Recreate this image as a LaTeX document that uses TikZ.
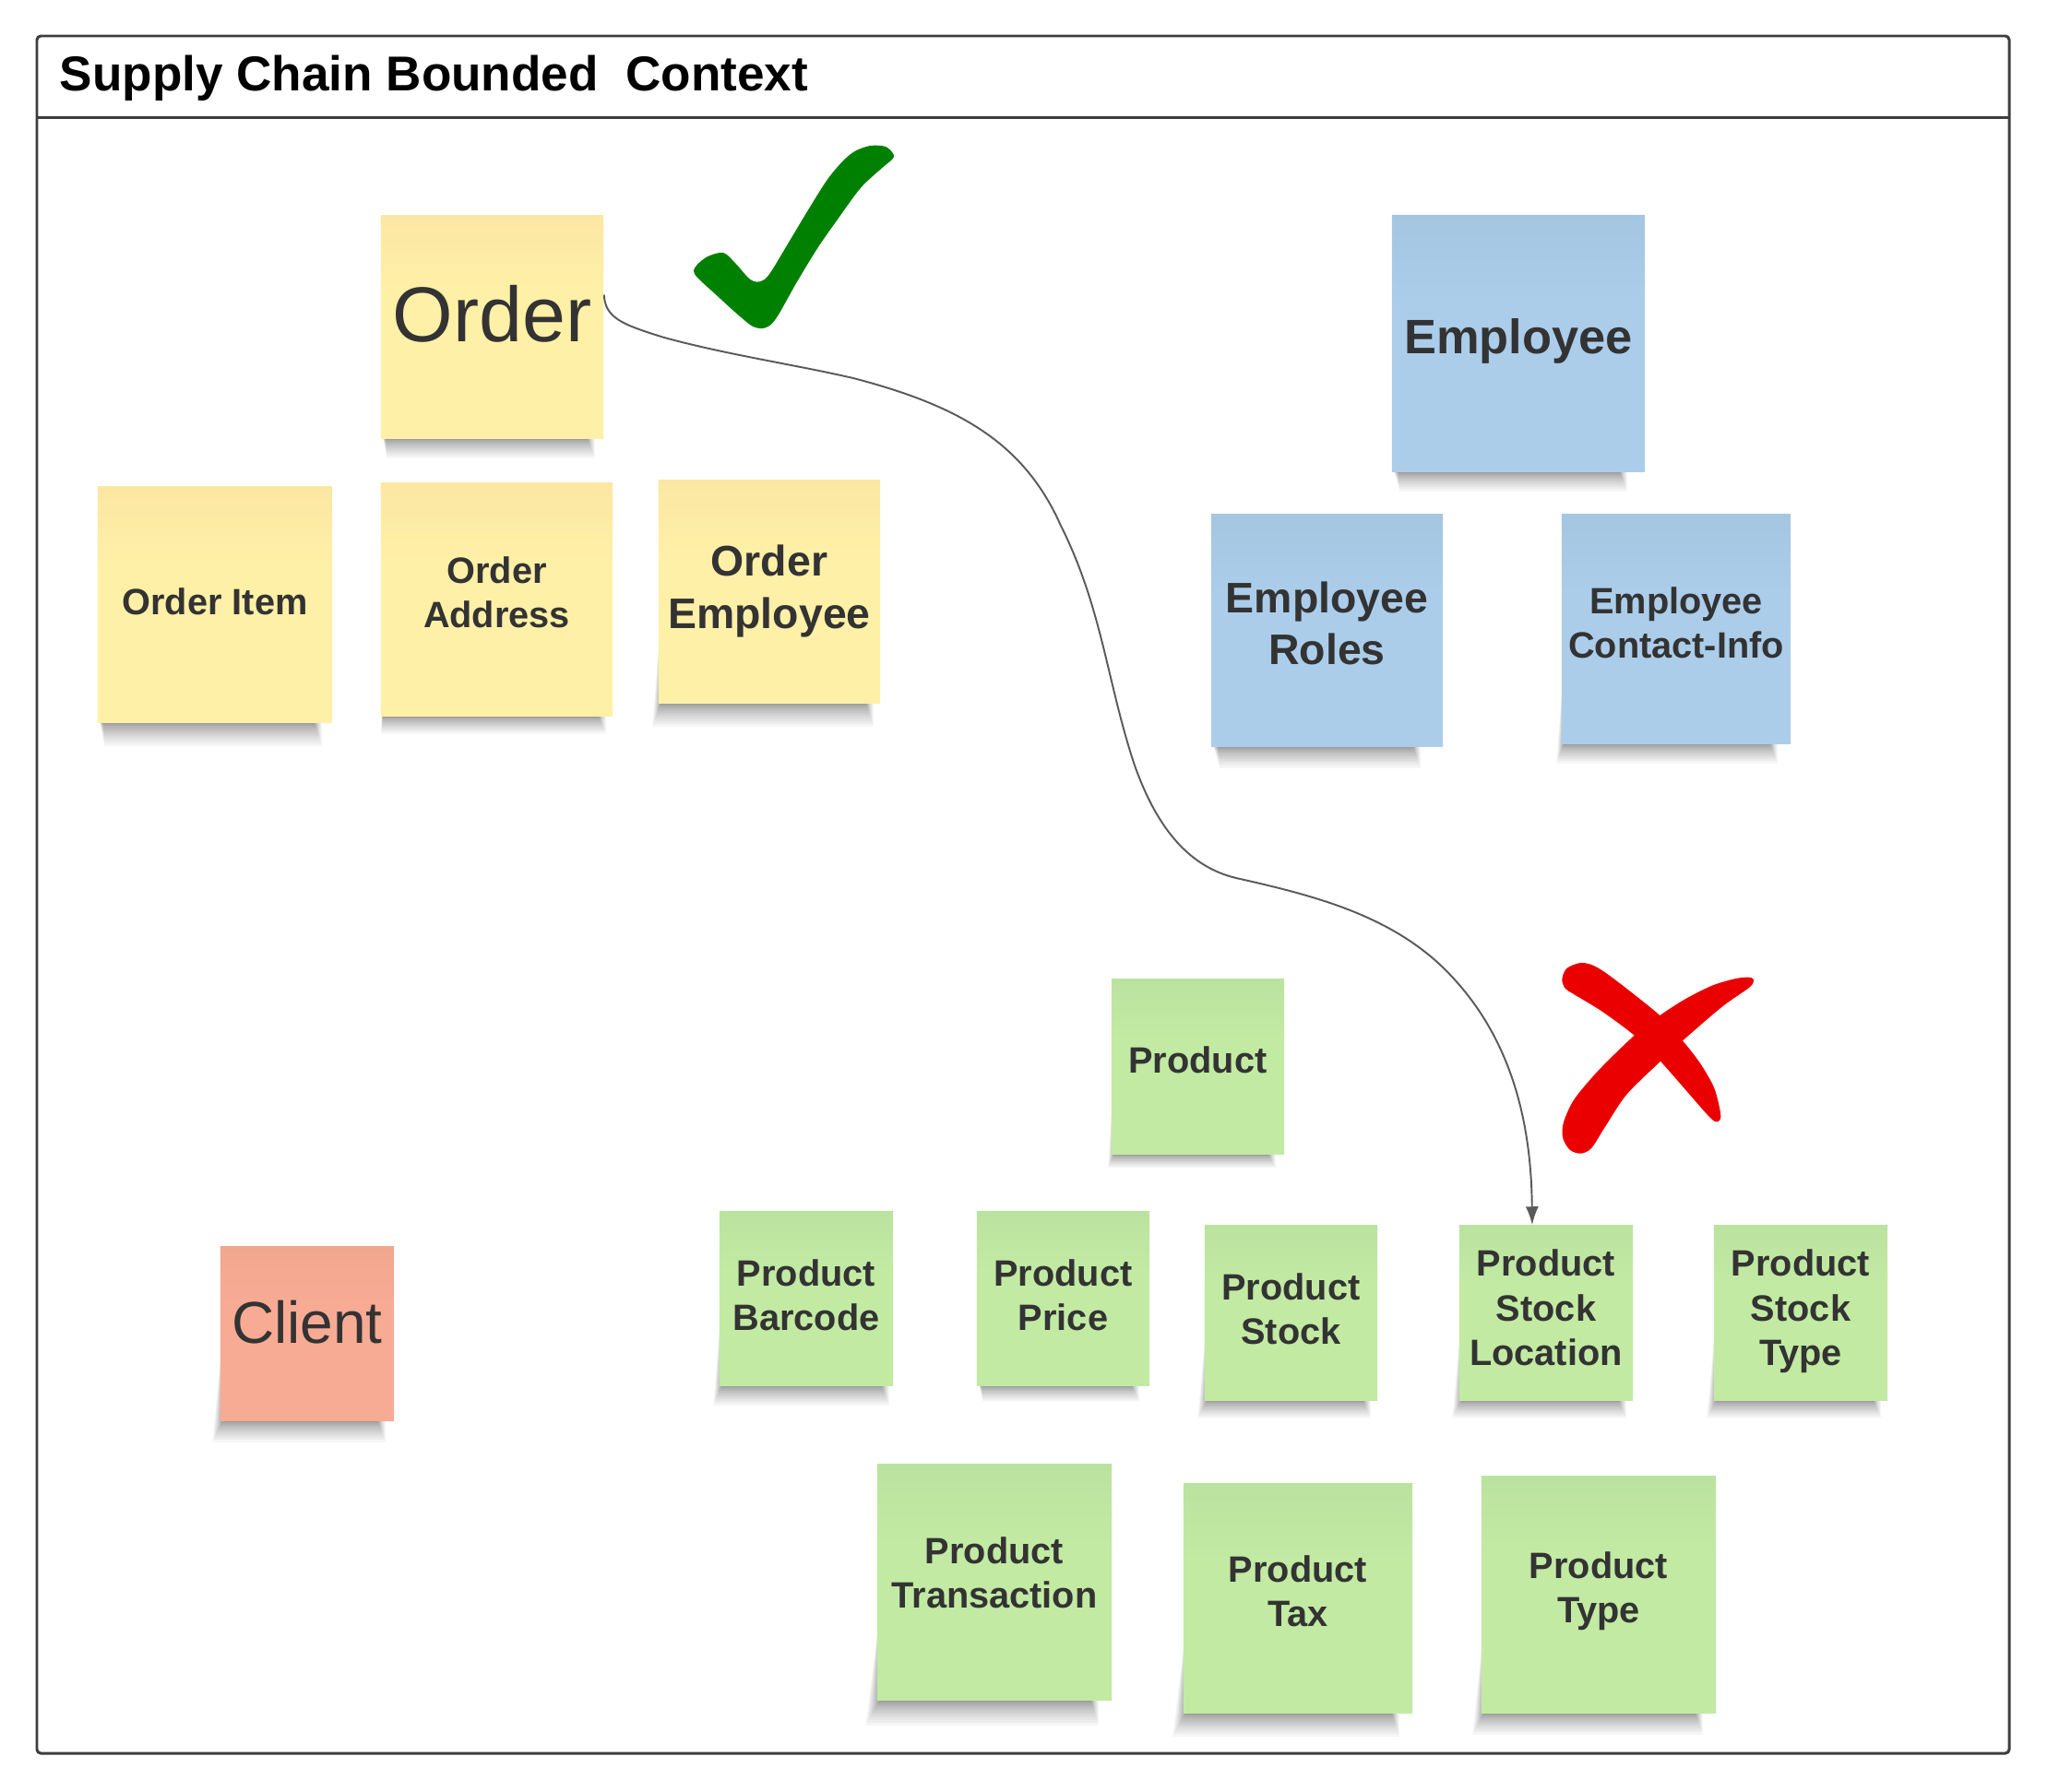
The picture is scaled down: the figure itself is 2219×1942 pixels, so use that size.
\documentclass[tikz,border=0pt]{standalone}
\usepackage{fontspec}
\setmainfont{Liberation Sans}
\usetikzlibrary{arrows.meta, backgrounds, calc}

\definecolor{frameline}{HTML}{3D3D3D}
\definecolor{notetext}{HTML}{333333}
\definecolor{linkline}{HTML}{5A5A5A}

% Note fills, a little darker at the top
\definecolor{yellowtop}{HTML}{FBE7A2}
\definecolor{yellowlow}{HTML}{FFF0A7}
\definecolor{bluetop}{HTML}{A5C6E1}
\definecolor{bluelow}{HTML}{ABCDEA}
\definecolor{greentop}{HTML}{BBE3A0}
\definecolor{greenlow}{HTML}{C2EAA3}
\definecolor{redtop}{HTML}{F1A78D}
\definecolor{redlow}{HTML}{F8AB94}
\pgfdeclareverticalshading{yellowfade}{100bp}{color(0bp)=(yellowlow); color(58bp)=(yellowlow); color(75bp)=(yellowtop); color(100bp)=(yellowtop)}
\pgfdeclareverticalshading{bluefade}{100bp}{color(0bp)=(bluelow); color(58bp)=(bluelow); color(75bp)=(bluetop); color(100bp)=(bluetop)}
\pgfdeclareverticalshading{greenfade}{100bp}{color(0bp)=(greenlow); color(58bp)=(greenlow); color(75bp)=(greentop); color(100bp)=(greentop)}
\pgfdeclareverticalshading{redfade}{100bp}{color(0bp)=(redlow); color(58bp)=(redlow); color(75bp)=(redtop); color(100bp)=(redtop)}

\tikzset{
  note/.style={rectangle, inner sep=0pt, align=center, text=notetext, font=\fontsize{11.3}{13.66}\bfseries\selectfont},
  yellownote/.style={note, shading=yellowfade},
  bluenote/.style={note, shading=bluefade},
  greennote/.style={note, shading=greenfade},
  rednote/.style={note, shading=redfade},
  midtext/.style={font=\fontsize{13.2}{16.1}\bfseries\selectfont},
  frame/.style={draw=frameline, line width=0.85pt},
  link/.style={draw=linkline, line width=0.55pt, -{Latex[length=0.2cm, width=0.14cm]}}
}

% node, left overhang, right inset, drop
\newcommand{\noteshadow}[4]{
  \foreach \k in {0,...,15} {
    \pgfmathsetmacro{\fade}{(1-\k/15)^1.8}
    \fill[black, opacity=0.035]
      ($(#1.south west)+({-(#2)*\fade+3},{1.05*(#4)*\fade})$) --
      ($(#1.south east)+({-(#3)+8*\fade-8},{1.05*(#4)*\fade})$) --
      ($(#1.south east)+({-(#3)+8*\fade-8},-10)$) --
      ($(#1.south west)+(3,-90)$) -- cycle;
  }
}

\begin{document}
\begin{tikzpicture}[x=0.01cm, y=-0.01cm]
\useasboundingbox (0,0) rectangle (2219,1942);

% Frame
\draw[frame, rounded corners=1.2pt] (40,39) rectangle (2178,1901);
\draw[frame] (40,127) -- (2178,127);
\node (title) [anchor=base west, inner sep=0pt, font=\fontsize{15.1}{18}\bfseries\selectfont] at (64,98) {Supply Chain Bounded\ \ Context};

% Order notes
\node (order) [yellownote, minimum width=2.41cm, minimum height=2.41cm, font=\fontsize{24}{28}\selectfont] at (533.5,354.5) {Order\\[-19.5pt]};
\node (orderitem) [yellownote, minimum width=2.54cm, minimum height=2.55cm] at (233,655.5) {Order Item\\[-12pt]};
\node (orderaddress) [yellownote, minimum width=2.51cm, minimum height=2.52cm] at (538.5,650) {Order\\Address\\[-8.9pt]};
\node (orderemployee) [yellownote, midtext, minimum width=2.40cm, minimum height=2.41cm] at (834,641.5) {Order\\Employee\\[-12.9pt]};

% Employee notes
\node (employee) [bluenote, minimum width=2.74cm, minimum height=2.77cm, font=\fontsize{14.9}{18}\bfseries\selectfont] at (1646,372.5) {Employee\\[-13.7pt]};
\node (employeeroles) [bluenote, midtext, minimum width=2.51cm, minimum height=2.51cm] at (1438.5,683.5) {Employee\\Roles\\[-11.7pt]};
\node (employeecontact) [bluenote, minimum width=2.48cm, minimum height=2.48cm] at (1817,682) {Employee\\Contact-Info\\[-9.9pt]};

% Product notes
\node (product) [greennote, minimum width=1.87cm, minimum height=1.89cm] at (1298.5,1156.5) {Product\\[-9.7pt]};
\node (barcode) [greennote, minimum width=1.88cm, minimum height=1.88cm] at (874,1408) {Product\\Barcode\\[-11.7pt]};
\node (price) [greennote, minimum width=1.87cm, minimum height=1.88cm] at (1152.5,1408) {Product\\Price\\[-11.7pt]};
\node (stock) [greennote, minimum width=1.87cm, minimum height=1.89cm] at (1399.5,1423.5) {Product\\Stock\\[-11.3pt]};
\node (stocklocation) [greennote, minimum width=1.88cm, minimum height=1.89cm] at (1676,1423.5) {Product\\Stock\\Location\\[-10.3pt]};
\node (stocktype) [greennote, minimum width=1.88cm, minimum height=1.89cm] at (1952,1423.5) {Product\\Stock\\Type\\[-10.3pt]};
\node (transaction) [greennote, minimum width=2.54cm, minimum height=2.55cm] at (1078,1715.5) {Product\\Transaction\\[-7.9pt]};
\node (tax) [greennote, minimum width=2.48cm, minimum height=2.48cm] at (1407,1733) {Product\\Tax\\[-8.9pt]};
\node (producttype) [greennote, minimum width=2.54cm, minimum height=2.56cm] at (1733,1729) {Product\\Type\\[-8.9pt]};

% Client
\node (client) [rednote, minimum width=1.88cm, minimum height=1.88cm, font=\fontsize{18.2}{22}\selectfont] at (333,1446) {Client\\[-14.9pt]};

% Shadows
\begin{scope}[on background layer]
\noteshadow{order}{-4}{10}{20}
\noteshadow{orderitem}{-5}{12}{24}
\noteshadow{orderaddress}{2}{8}{18}
\noteshadow{orderemployee}{9}{8}{24}
\noteshadow{employee}{-6}{20}{20}
\noteshadow{employeeroles}{-7}{25}{22}
\noteshadow{employeecontact}{8}{15}{20}
\noteshadow{product}{6}{10}{14}
\noteshadow{barcode}{9}{5}{20}
\noteshadow{price}{-4}{12}{16}
\noteshadow{stock}{10}{8}{18}
\noteshadow{stocklocation}{10}{8}{18}
\noteshadow{stocktype}{10}{8}{18}
\noteshadow{transaction}{15}{15}{26}
\noteshadow{tax}{14}{15}{24}
\noteshadow{producttype}{12}{15}{22}
\noteshadow{client}{11}{10}{22}
\end{scope}

% Link
\draw[link] (order.16) .. controls (656,345) and (675,352) .. (720,366)
  .. controls (790,385) and (860,395) .. (925,410)
  .. controls (1040,440) and (1110,480) .. (1150,570)
  .. controls (1195,660) and (1200,740) .. (1230,830)
  .. controls (1255,900) and (1290,940) .. (1340,952)
  .. controls (1420,970) and (1500,990) .. (1560,1045)
  .. controls (1640,1120) and (1660,1220) .. (stocklocation.99);

% Check mark
\begin{scope}[shift={(730,140)}, scale=1/3]
\fill[green!50!black] plot[smooth cycle, tension=0.5] coordinates {(716,82) (690,57) (640,54) (590,72) (550,105) (500,165) (440,260) (380,360) (320,460) (295,490) (270,497) (245,485) (205,440) (172,407) (150,402) (110,415) (78,440) (66,462) (80,485) (140,540) (200,595) (255,640) (290,648) (318,635) (345,598) (400,500) (470,385) (540,285) (610,190) (680,125) (712,98)};
\end{scope}

% Cross
\begin{scope}[shift={(1550,1000)}, scale=1/3]
\fill[red!92!black] plot[smooth cycle, tension=0.5] coordinates {(430,185) (445,150) (490,132) (535,142) (600,185) (748,303) (822,385) (880,460) (925,540) (945,620) (942,645) (925,647) (890,612) (750,452) (665,368) (560,290) (470,235) (440,215)};
\fill[red!92!black] plot[smooth cycle, tension=0.5] coordinates {(1053,193) (1045,180) (1000,182) (920,205) (830,250) (748,303) (665,368) (550,480) (470,575) (435,650) (432,700) (455,740) (490,752) (525,735) (570,665) (640,560) (750,452) (822,385) (950,275) (1035,215)};
\end{scope}

\end{tikzpicture}
\end{document}
